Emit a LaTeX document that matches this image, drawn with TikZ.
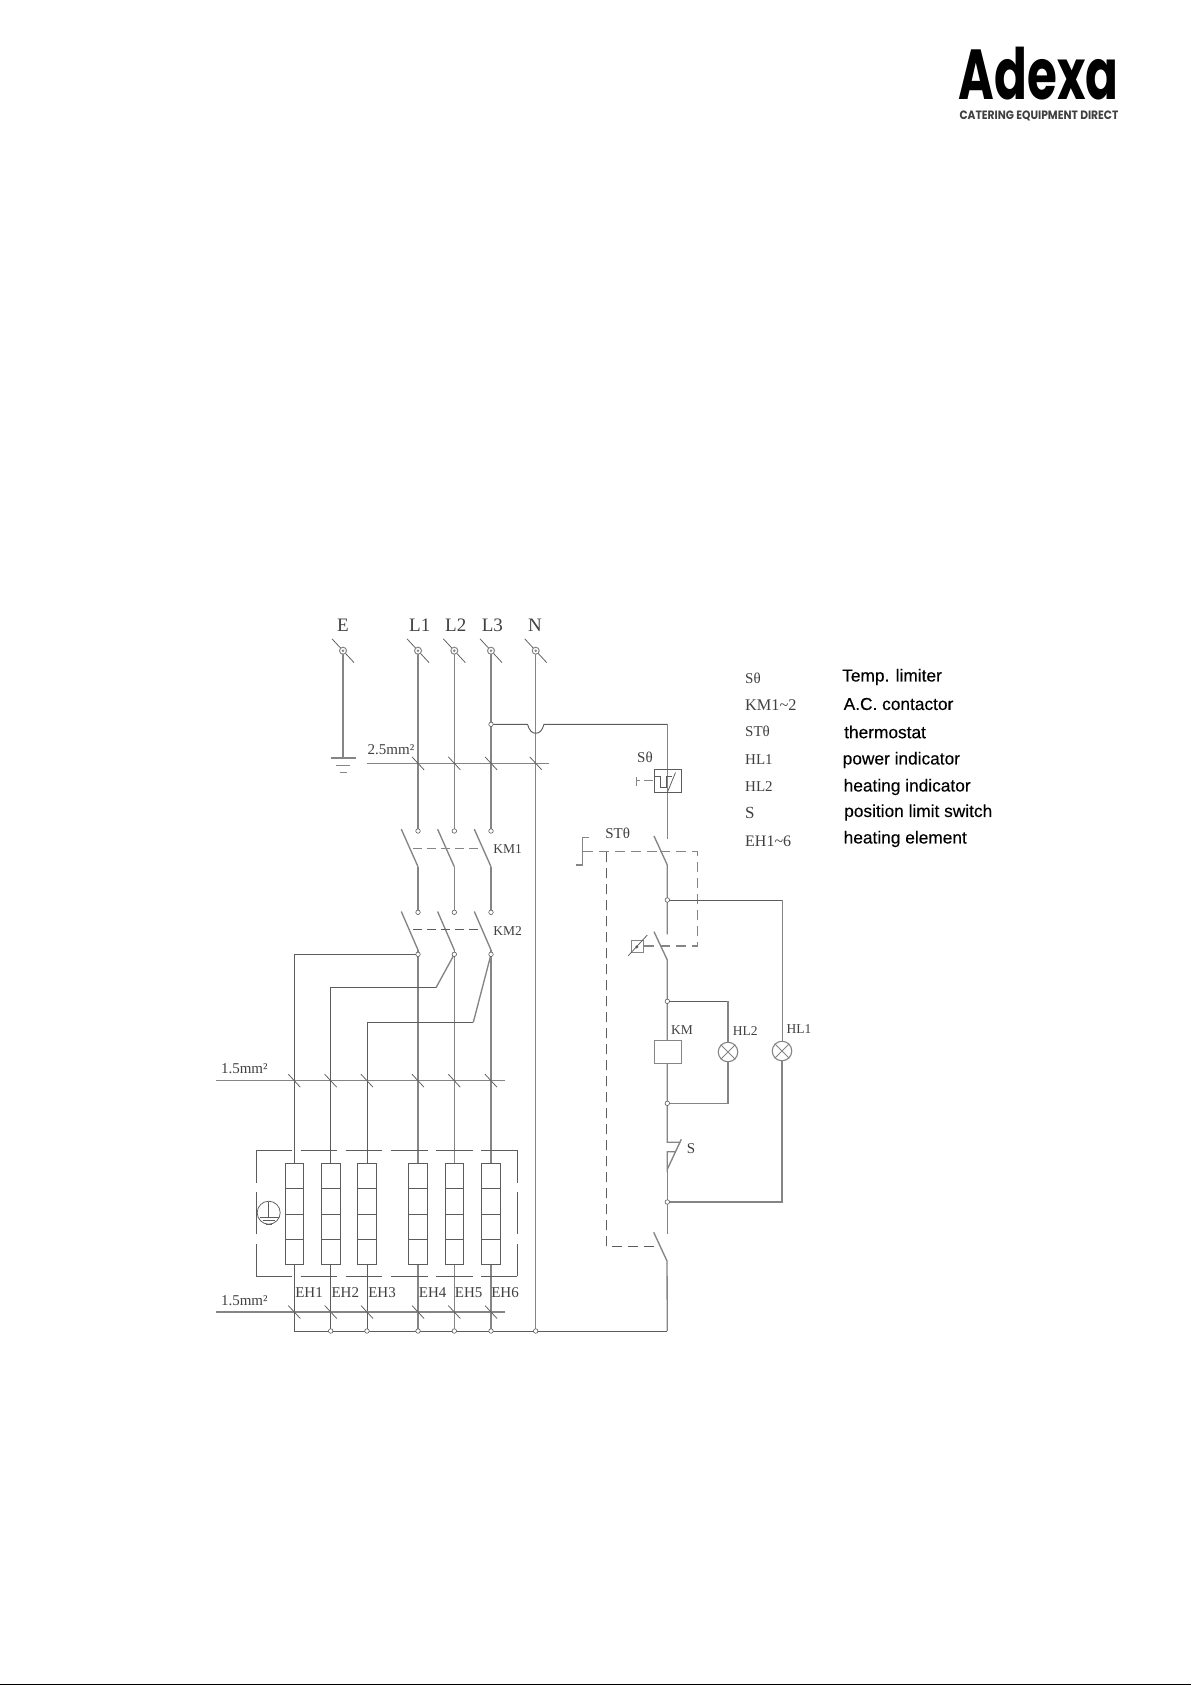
\documentclass[tikz,border=0pt]{standalone}
\usepackage{fontspec}
\setmainfont{Liberation Serif}
\newfontfamily\armfont[FakeBold=0.25]{Liberation Sans}
\newfontfamily\logofont{Poppins}
\usetikzlibrary{calc}
\definecolor{wgray}{gray}{0.52}
\definecolor{wdark}{gray}{0.36}
\definecolor{tgray}{gray}{0.25}
\tikzset{
  wire/.style={draw=wgray,line width=1.35pt},
  thin wire/.style={draw=wdark,line width=0.95pt},
  fine/.style={draw=wdark,line width=0.75pt},
  ctrl/.style={draw=wgray,line width=1.2pt,dash pattern=on 10pt off 6pt},
  dot/.style={circle,draw=wdark,fill=white,line width=0.6pt,inner sep=0pt,minimum size=4.5pt},
  term/.style={circle,draw=wgray,fill=white,line width=1pt,inner sep=0pt,minimum size=7pt},
  lab/.style={inner sep=0pt,text=tgray,font=\fontsize{15}{15}\selectfont},
  labs/.style={inner sep=0pt,text=tgray,font=\fontsize{13.5}{13.5}\selectfont},
  big/.style={inner sep=0pt,text=tgray,font=\fontsize{19}{19}\selectfont},
  legl/.style={inner sep=0pt,anchor=west,text=tgray,font=\fontsize{15}{15}\selectfont},
  legr/.style={inner sep=0pt,anchor=west,text=black,font=\armfont\fontsize{17.3}{17.3}\selectfont},
  element/.style={draw=wdark,line width=0.9pt,fill=white,minimum width=18.5pt,minimum height=101pt,inner sep=0pt},
  lamp/.style={circle,draw=wgray,line width=1.1pt,fill=white,minimum size=19.5pt,inner sep=0pt},
  boxsym/.style={draw=wdark,line width=1pt,fill=white,inner sep=0pt},
}
\newcommand{\slashmark}[2]{\draw[fine] ($(#1)+(-#2,-#2*1.08)$) -- ($(#1)+(#2,#2*1.08)$);}
\begin{document}
\begin{tikzpicture}[x=1pt,y=-1pt]
\useasboundingbox (0,0) rectangle (1191,1685);
\fill[white] (0,0) rectangle (1191,1685);
\fill[black] (0,1684) rectangle (1191,1685);
% logo
\node[inner sep=0pt,anchor=center,xscale=0.82,yscale=1.2,transform shape] (logo) at (1038.5,74)
  {\logofont\bfseries\fontsize{59}{59}\selectfont Adexa};
\node[inner sep=0pt,anchor=center,xscale=1.02,yscale=1.15,text=black!75,transform shape] (logosub) at (1039,115.5)
  {\logofont\fontsize{10.5}{10.5}\selectfont\bfseries CATERING EQUIPMENT DIRECT};
% phase labels
\node[big] (tE) at (343,625) {E};
\node[big] (tL1) at (419.7,625) {L1};
\node[big] (tL2) at (455.7,625) {L2};
\node[big] (tL3) at (492.3,625) {L3};
\node[big] (tN) at (535,625) {N};
% coordinates
\coordinate (E0) at (343,650.7);
\coordinate (L10) at (418,650.7);
\coordinate (L20) at (454.3,650.7);
\coordinate (L30) at (491,650.7);
\coordinate (N0) at (535.7,650.7);
\foreach \n in {E0,L10,L20,L30,N0} {\slashmark{\n}{11}}
% earth
\coordinate (Egnd) at (343,758);
\draw[wire] (E0) -- (Egnd);
\draw[wire] (330.7,758) -- (355.7,758);
\draw[wire] (336,765.7) -- (350,765.7);
\draw[wire] (339.5,772.5) -- (346.5,772.5);
% neutral
\coordinate (Nb) at (535.7,1331);
\draw[wire] (N0) -- (Nb);
% L lines and KM contacts
\foreach \x/\n in {418/a,454.3/b,491/c}{
  \coordinate (t\n) at (\x,650.7);
  \coordinate (u\n) at (\x,829);
  \coordinate (v\n) at (\x,831);
  \coordinate (w\n) at (\x,866.7);
  \coordinate (p\n) at (\x,910.5);
  \coordinate (q\n) at (\x,912.3);
  \coordinate (r\n) at (\x,950);
  \coordinate (s\n) at (\x,954.3);
  \draw[wire] (t\n) -- (u\n);
  \draw[wire] (w\n) -- ($(w\n)+(-16.7,-37.5)$);
  \draw[wire] (w\n) -- (p\n);
  \draw[wire] (r\n) -- ($(r\n)+(-16.7,-38.5)$);
  \draw[wire] (r\n) -- (s\n);
  \draw[wire] (s\n) -- (\x,1331);
}
\foreach \n in {a,b,c}{\node[dot] (dv\n) at (v\n) {}; \node[dot] (dq\n) at (q\n) {};}
\foreach \n in {E0,L10,L20,L30,N0} {\node[term] (T\n) at (\n) {};\fill[wgray] (\n) circle (1.4pt);}
% 2.5mm bus
\node[lab,anchor=center] (t25) at (391,750) {2.5mm²};
\draw[wire] (366.7,763.3) -- (549.3,763.3);
\foreach \x in {418,454.3,491,535.7}{\slashmark{\x,763.3}{6}}
% KM dashed
\draw[wgray,line width=1.1pt,dash pattern=on 9pt off 5pt] (413,848.3) -- (481.7,848.3);
\draw[wdark,line width=0.9pt,dash pattern=on 9pt off 5pt] (413,929.3) -- (481.7,929.3);
\node[labs] (km1) at (507.5,849) {KM1};
\node[labs] (km2) at (507.7,931) {KM2};
% wires to heaters
\draw[thin wire] (sa) -- (294.3,954.3) -- (294.3,1331);
\draw[wire] (sb) -- (436,987.7);
\draw[thin wire] (436,987.7) -- (330.7,987.7) -- (330.7,1331);
\draw[wire] (sc) -- (473.3,1022.3);
\draw[thin wire] (473.3,1022.3) -- (367,1022.3) -- (367,1331);
\node[dot] at (sa) {}; \node[dot] at (sb) {}; \node[dot] at (sc) {};
% 1.5mm buses
\node[lab,anchor=center] (t15a) at (244.3,1069) {1.5mm²};
\node[lab,anchor=center] (t15b) at (244.3,1300.7) {1.5mm²};
\draw[wire] (216,1080.7) -- (505,1080.7);
\draw[wire] (216,1312) -- (505,1312);
\foreach \x in {294.3,330.7,367,418,454.3,491}{\slashmark{\x,1080.7}{6}\slashmark{\x,1312}{6}}
% heater dashed box
\foreach \a/\b in {256/291.7,300.7/336.7,345.7/382.3,391/427.7,436/472.7,481/517}{
  \draw[fine] (\a,1150.3) -- (\b,1150.3);
  \draw[fine] (\a,1276.3) -- (\b,1276.3);
}
\foreach \x in {256,517}{
  \draw[fine] (\x,1150.3) -- (\x,1182.5);
  \draw[fine] (\x,1191.5) -- (\x,1233.5);
  \draw[fine] (\x,1243.5) -- (\x,1276.3);
}
% elements
\foreach \x/\k/\lx/\lbl in {294.3/1/309/EH1,330.7/2/345.3/EH2,367/3/382/EH3,418/4/432.7/EH4,454.3/5/468.7/EH5,491/6/505/EH6}{
  \node[element] (eh\k) at (\x,1213.8) {};
  \draw[fine] (\x-9.2,1188.3) -- (\x+9.2,1188.3);
  \draw[fine] (\x-9.2,1214.3) -- (\x+9.2,1214.3);
  \draw[fine] (\x-9.2,1239.3) -- (\x+9.2,1239.3);
  \node[lab] (leh\k) at (\lx,1292.7) {\lbl};
}
% PE symbol
\draw[fine] (268.7,1212.7) circle (11.5pt);
\draw[fine] (268.5,1201.5) -- (268.5,1217);
\draw[fine] (259.5,1217) -- (278.5,1217);
\draw[fine] (262.5,1220.5) -- (275,1220.5);
\draw[fine] (265.5,1224) -- (271.5,1224);
% bottom bus
\draw[thin wire] (294.3,1331) -- (667.3,1331);
\foreach \x in {330.7,367,418,454.3,491,535.7}{\node[dot] at (\x,1331) {};}
% supply to control
\coordinate (jL3) at (491,724.3);
\coordinate (ctop) at (667.3,724.3);
\draw[thin wire] (jL3) -- (527.5,724.3) .. controls (529.5,731) and (532,733.2) .. (535.7,733.2) .. controls (539.5,733.2) and (542,731) .. (544,724.3) -- (ctop);
\node[dot] at (jL3) {};
\draw[wire] (ctop) -- (667.3,839.3);
% S-theta
\node[labs,font=\fontsize{15}{15}\selectfont] (sth) at (645,757.7) {Sθ};
\node[boxsym,fill=none,minimum width=27.3pt,minimum height=22.7pt] (sbox) at (667.7,781.3) {};
\draw[fine] (655,776.7) -- (660,776.7) -- (660,787.3) -- (666,787.3) -- (666,776.7) -- (671.5,776.7);
\draw[fine] (675.5,772.5) -- (667.5,792);
\draw[wgray,line width=1pt] (636,776.5) -- (636,786);
\draw[wgray,line width=1pt] (636,780.7) -- (640,780.7);
\draw[wgray,line width=1pt] (644,780.7) -- (652.5,780.7);
% ST-theta
\node[lab] (stth) at (617.7,833.3) {STθ};
\draw[wgray,line width=1.2pt] (576,865) -- (582.7,865) -- (582.7,837.7) -- (588.7,837.7);
\draw[ctrl] (582.7,851.7) -- (660,851.7);
\draw[wdark,line width=1pt,dash pattern=on 10pt off 6pt] (606.3,851.7) -- (606.3,1246.3) -- (660.7,1246.3);
\draw[ctrl] (660,851.7) -- (697.7,851.7) -- (697.7,946) -- (643,946);
% contacts on control column
\draw[wire] (654,836) -- (667.3,865) -- (667.3,934.3);
\draw[wire] (654,931.7) -- (667.3,960) -- (667.3,1040.7);
\coordinate (j1) at (667.3,900);
\coordinate (j2) at (667.3,1001.3);
\coordinate (j3) at (667.3,1103.3);
\coordinate (j4) at (667.3,1202);
\draw[thin wire] (j1) -- (782.3,900);
\draw[wire] (782.3,900) -- (782.3,1041.5);
\draw[thin wire] (j2) -- (728,1001.3);
\draw[wire] (728,1001.3) -- (728,1042.5);
% temperature symbol
\node[boxsym,draw=wgray,minimum width=12pt,minimum height=12pt] (tsym) at (637,946.7) {};
\draw[fine] (628.3,955.7) -- (647.3,935);
\fill[wdark] (636.8,946.9) circle (1.7pt);
% KM coil & lamps
\node[boxsym,draw=wgray,fill=white,minimum width=27.3pt,minimum height=23.3pt] (kmcoil) at (667.7,1052.3) {};
\node[labs] (tkm) at (682,1030) {KM};
\node[labs] (thl2) at (745.3,1030.7) {HL2};
\node[labs] (thl1) at (799,1029.3) {HL1};
\node[lamp] (hl2) at (728,1052) {};
\node[lamp] (hl1) at (782,1051) {};
\foreach \l in {hl1,hl2}{
  \draw[wgray,line width=0.9pt] (\l.north west) -- (\l.south east);
  \draw[wgray,line width=0.9pt] (\l.north east) -- (\l.south west);
}
% lower part
\draw[wire] (667.3,1064) -- (667.3,1142.3) -- (680,1142.3) -- (681.3,1139.3) -- (667.3,1169.3) -- (667.3,1151.7) -- (675.7,1151.7);
\draw[wire] (667.3,1169.3) -- (667.3,1234);
\draw[wire] (hl2.south) -- (728,1103.3) -- (j3);
\draw[wire] (hl1.south) -- (782,1202) -- (j4);
\draw[wire] (653.7,1232.3) -- (667,1261) -- (667.3,1331);
\node[lab] (ts) at (691,1149) {S};
\foreach \j in {j1,j2,j3,j4}{\node[dot] at (\j) {};}
% legend
\node[legl] (a1) at (745,678.3) {Sθ};
\node[legl,font=\fontsize{16.3}{16.3}\selectfont] (a2) at (745,705) {KM1\textasciitilde 2};
\node[legl] (a3) at (745,731.7) {STθ};
\node[legl] (a4) at (745,760) {HL1};
\node[legl] (a5) at (745,786.7) {HL2};
\node[legl,font=\fontsize{17}{17}\selectfont] (a6) at (745,813.3) {S};
\node[legl,font=\fontsize{16}{16}\selectfont] (a7) at (745,841.7) {EH1\textasciitilde 6};
\node[legr] (b1) at (842,677) {Temp. limiter};
\node[legr] (b2) at (843.5,704) {A.C. contactor};
\node[legr] (b3) at (844,732) {thermostat};
\node[legr] (b4) at (842.5,760) {power indicator};
\node[legr] (b5) at (843.5,787) {heating indicator};
\node[legr] (b6) at (844,812.5) {position limit switch};
\node[legr] (b7) at (843.5,839) {heating element};
\end{tikzpicture}
\end{document}
